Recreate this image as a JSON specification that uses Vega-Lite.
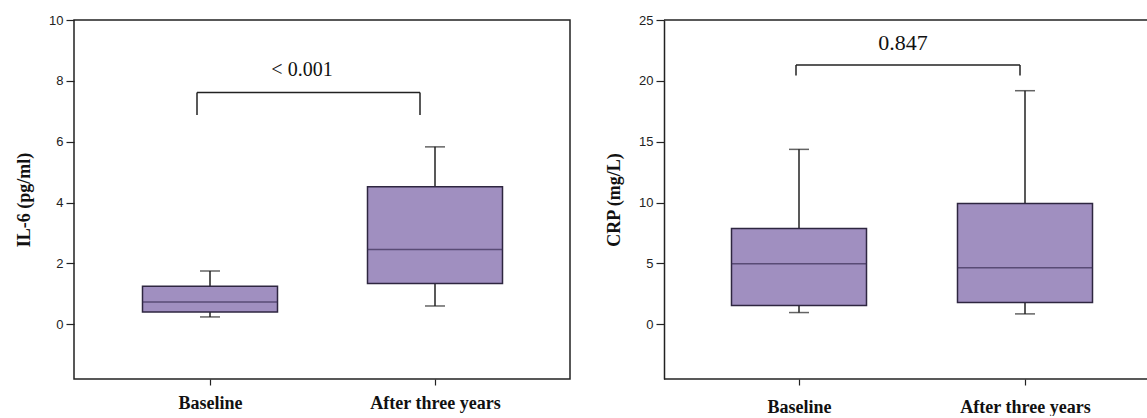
{
  "$schema": "https://vega.github.io/schema/vega-lite/v6.json",
  "background": "white",
  "padding": {"left": 14, "top": 13, "right": 0, "bottom": 0},
  "bounds": "flush",
  "spacing": 94,
  "config": {
    "view": {"stroke": "#222", "strokeWidth": 1.5},
    "axis": {"grid": false, "domain": false, "tickColor": "#222", "tickWidth": 1.2}
  },
  "datasets": {
    "il6": [
      {"group": "Baseline", "low": 0.24, "q1": 0.40, "median": 0.73, "q3": 1.25, "high": 1.75},
      {"group": "After three years", "low": 0.60, "q1": 1.34, "median": 2.46, "q3": 4.52, "high": 5.83}
    ],
    "crp": [
      {"group": "Baseline", "low": 0.96, "q1": 1.54, "median": 4.97, "q3": 7.87, "high": 14.37},
      {"group": "After three years", "low": 0.85, "q1": 1.78, "median": 4.64, "q3": 9.93, "high": 19.19}
    ],
    "il6_bracket": [
      {"from": "Baseline", "to": "After three years", "top": 7.62, "bottom": 6.88, "label": "< 0.001", "labelY": 8.35}
    ],
    "crp_bracket": [
      {"from": "Baseline", "to": "After three years", "top": 21.3, "bottom": 20.43, "label": "0.847", "labelY": 23.1}
    ]
  },
  "hconcat": [
    {
      "width": 496,
      "height": 359,
      "layer": [
        {
          "data": {"name": "il6"},
          "mark": {"type": "rule", "color": "#222", "strokeWidth": 1.5},
          "encoding": {
            "x": {"field": "group", "type": "nominal", "title": null,
              "scale": {"type": "point", "domain": ["Baseline", "After three years"], "range": [136, 361], "padding": 0},
              "axis": {"title": null, "tickSize": 6, "labelPadding": 9, "labelAngle": 0, "labelFont": "Liberation Serif", "labelFontWeight": "bold", "labelFontSize": 18, "labelColor": "#111"}},
            "y": {"field": "low", "type": "quantitative", "title": "IL-6 (pg/ml)",
              "scale": {"domain": [-1.8, 10], "nice": false, "zero": false},
              "axis": {"title": "IL-6 (pg/ml)", "values": [0, 2, 4, 6, 8, 10], "tickSize": 8, "labelPadding": 3, "labelFont": "Liberation Sans", "labelFontSize": 13, "labelColor": "#222", "minExtent": 25, "maxExtent": 25, "titlePadding": 16, "titleFont": "Liberation Serif", "titleFontWeight": "bold", "titleFontSize": 18, "titleColor": "#111"}},
            "y2": {"field": "high"}
          }
        },
        {
          "data": {"name": "il6"},
          "mark": {"type": "tick", "color": "#222", "size": 20, "thickness": 1.5},
          "encoding": {
            "x": {"field": "group", "type": "nominal", "title": null},
            "y": {"field": "low", "type": "quantitative", "title": "IL-6 (pg/ml)"}
          }
        },
        {
          "data": {"name": "il6"},
          "mark": {"type": "tick", "color": "#222", "size": 20, "thickness": 1.5},
          "encoding": {
            "x": {"field": "group", "type": "nominal", "title": null},
            "y": {"field": "high", "type": "quantitative", "title": "IL-6 (pg/ml)"}
          }
        },
        {
          "data": {"name": "il6"},
          "mark": {"type": "bar", "size": 135, "fill": "#a08fc0", "stroke": "#2e2640", "strokeWidth": 1.5},
          "encoding": {
            "x": {"field": "group", "type": "nominal", "title": null},
            "y": {"field": "q1", "type": "quantitative", "title": "IL-6 (pg/ml)"},
            "y2": {"field": "q3"}
          }
        },
        {
          "data": {"name": "il6"},
          "mark": {"type": "tick", "color": "#3a2d55", "size": 135, "thickness": 1.5},
          "encoding": {
            "x": {"field": "group", "type": "nominal", "title": null},
            "y": {"field": "median", "type": "quantitative", "title": "IL-6 (pg/ml)"}
          }
        },
        {
          "data": {"name": "il6_bracket"},
          "mark": {"type": "rule", "color": "#222", "strokeWidth": 1.5, "xOffset": -13, "x2Offset": -15},
          "encoding": {
            "x": {"field": "from", "type": "nominal", "title": null},
            "x2": {"field": "to"},
            "y": {"field": "top", "type": "quantitative", "title": "IL-6 (pg/ml)"}
          }
        },
        {
          "data": {"name": "il6_bracket"},
          "mark": {"type": "rule", "color": "#222", "strokeWidth": 1.5, "xOffset": -13},
          "encoding": {
            "x": {"field": "from", "type": "nominal", "title": null},
            "y": {"field": "bottom", "type": "quantitative", "title": "IL-6 (pg/ml)"},
            "y2": {"field": "top"}
          }
        },
        {
          "data": {"name": "il6_bracket"},
          "mark": {"type": "rule", "color": "#222", "strokeWidth": 1.5, "xOffset": -15},
          "encoding": {
            "x": {"field": "to", "type": "nominal", "title": null},
            "y": {"field": "bottom", "type": "quantitative", "title": "IL-6 (pg/ml)"},
            "y2": {"field": "top"}
          }
        },
        {
          "data": {"name": "il6_bracket"},
          "mark": {"type": "text", "font": "Liberation Serif", "fontSize": 20, "dx": 92, "align": "center", "baseline": "middle", "color": "#111"},
          "encoding": {
            "x": {"field": "from", "type": "nominal", "title": null},
            "y": {"field": "labelY", "type": "quantitative", "title": "IL-6 (pg/ml)"},
            "text": {"field": "label"}
          }
        }
      ]
    },
    {
      "width": 484,
      "height": 359,
      "view": {"stroke": null},
      "layer": [
        {
          "data": {"name": "crp"},
          "mark": {"type": "rule", "color": "#222", "strokeWidth": 1.5},
          "encoding": {
            "x": {"field": "group", "type": "nominal", "title": null,
              "scale": {"type": "point", "domain": ["Baseline", "After three years"], "range": [135, 361], "padding": 0},
              "axis": {"title": null, "tickSize": 6, "labelPadding": 13, "labelAngle": 0, "labelFont": "Liberation Serif", "labelFontWeight": "bold", "labelFontSize": 18, "labelColor": "#111"}},
            "y": {"field": "low", "type": "quantitative", "title": "CRP (mg/L)",
              "scale": {"domain": [-4.5, 25], "nice": false, "zero": false},
              "axis": {"title": "CRP (mg/L)", "values": [0, 5, 10, 15, 20, 25], "domain": true, "domainColor": "#222", "domainWidth": 1.5, "tickSize": 8, "labelPadding": 3, "labelFont": "Liberation Sans", "labelFontSize": 13, "labelColor": "#222", "minExtent": 25, "maxExtent": 25, "titlePadding": 16, "titleFont": "Liberation Serif", "titleFontWeight": "bold", "titleFontSize": 18, "titleColor": "#111"}},
            "y2": {"field": "high"}
          }
        },
        {
          "data": {"name": "crp"},
          "mark": {"type": "tick", "color": "#222", "size": 20, "thickness": 1.5},
          "encoding": {
            "x": {"field": "group", "type": "nominal", "title": null},
            "y": {"field": "low", "type": "quantitative", "title": "CRP (mg/L)"}
          }
        },
        {
          "data": {"name": "crp"},
          "mark": {"type": "tick", "color": "#222", "size": 20, "thickness": 1.5},
          "encoding": {
            "x": {"field": "group", "type": "nominal", "title": null},
            "y": {"field": "high", "type": "quantitative", "title": "CRP (mg/L)"}
          }
        },
        {
          "data": {"name": "crp"},
          "mark": {"type": "bar", "size": 135, "fill": "#a08fc0", "stroke": "#2e2640", "strokeWidth": 1.5},
          "encoding": {
            "x": {"field": "group", "type": "nominal", "title": null},
            "y": {"field": "q1", "type": "quantitative", "title": "CRP (mg/L)"},
            "y2": {"field": "q3"}
          }
        },
        {
          "data": {"name": "crp"},
          "mark": {"type": "tick", "color": "#3a2d55", "size": 135, "thickness": 1.5},
          "encoding": {
            "x": {"field": "group", "type": "nominal", "title": null},
            "y": {"field": "median", "type": "quantitative", "title": "CRP (mg/L)"}
          }
        },
        {
          "data": {"name": "crp_bracket"},
          "mark": {"type": "rule", "color": "#222", "strokeWidth": 1.5, "xOffset": -3, "x2Offset": -5},
          "encoding": {
            "x": {"field": "from", "type": "nominal", "title": null},
            "x2": {"field": "to"},
            "y": {"field": "top", "type": "quantitative", "title": "CRP (mg/L)"}
          }
        },
        {
          "data": {"name": "crp_bracket"},
          "mark": {"type": "rule", "color": "#222", "strokeWidth": 1.5, "xOffset": -3},
          "encoding": {
            "x": {"field": "from", "type": "nominal", "title": null},
            "y": {"field": "bottom", "type": "quantitative", "title": "CRP (mg/L)"},
            "y2": {"field": "top"}
          }
        },
        {
          "data": {"name": "crp_bracket"},
          "mark": {"type": "rule", "color": "#222", "strokeWidth": 1.5, "xOffset": -5},
          "encoding": {
            "x": {"field": "to", "type": "nominal", "title": null},
            "y": {"field": "bottom", "type": "quantitative", "title": "CRP (mg/L)"},
            "y2": {"field": "top"}
          }
        },
        {
          "data": {"name": "crp_bracket"},
          "mark": {"type": "text", "font": "Liberation Serif", "fontSize": 22, "dx": 104, "align": "center", "baseline": "middle", "color": "#111"},
          "encoding": {
            "x": {"field": "from", "type": "nominal", "title": null},
            "y": {"field": "labelY", "type": "quantitative", "title": "CRP (mg/L)"},
            "text": {"field": "label"}
          }
        },
        {
          "data": {"values": [{"edge": 25}, {"edge": -4.5}]},
          "mark": {"type": "rule", "color": "#222", "strokeWidth": 1.5},
          "encoding": {
            "y": {"field": "edge", "type": "quantitative", "title": "CRP (mg/L)"}
          }
        }
      ]
    }
  ]
}
